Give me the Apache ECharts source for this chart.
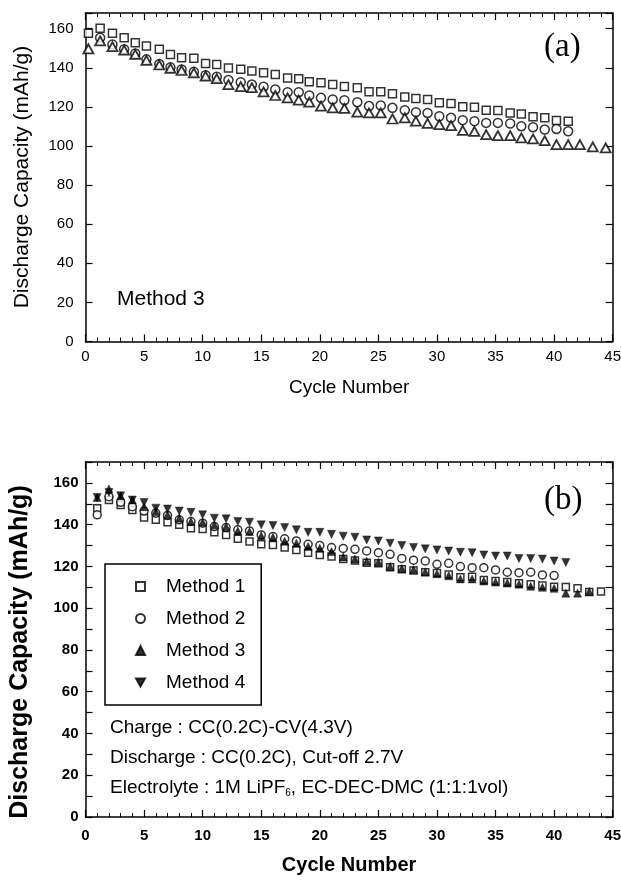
<!DOCTYPE html>
<html>
<head>
<meta charset="utf-8">
<script src="https://cdn.jsdelivr.net/npm/echarts@6/dist/echarts.min.js"></script>
<style>
html, body { margin: 0; padding: 0; background: #fff; }
#chart { width: 621px; height: 882px; }
</style>
</head>
<body>
<div id="chart"></div>
<script>
// panel (a): cycle positions
const cyclesA = [0.25, 1.25, 2.3, 3.3, 4.25, 5.2, 6.3, 7.25, 8.2, 9.25, 10.25, 11.2, 12.2, 13.25, 14.2,
  15.2, 16.2, 17.25, 18.2, 19.1, 20.1, 21.1, 22.1, 23.2, 24.2, 25.2, 26.2, 27.25, 28.2, 29.2,
  30.2, 31.2, 32.2, 33.2, 34.2, 35.2, 36.25, 37.2, 38.2, 39.2, 40.2, 41.2, 42.2, 43.3, 44.4]
const squaresA = [157.6, 160.2, 157.6, 155.4, 152.8, 151.1, 149.4, 146.8, 145.1, 144.8,
  142.2, 141.7, 139.9, 139.2, 138.3, 137.4, 136.6, 134.7, 134.4, 132.8,
  132.3, 131.4, 130.4, 129.8, 127.7, 127.7, 126.7, 125.1, 124.3, 123.8,
  122.1, 121.7, 120.0, 119.8, 118.3, 118.1, 116.9, 116.4, 114.9, 114.4, 113.0, 112.7]
const circlesA = [null, 155.4, 151.9, 149.5, 147.3, 144.3, 141.9, 140.2, 139.1, 137.9,
  136.2, 135.4, 133.7, 132.6, 131.4, 130.3, 128.9, 127.5, 127.5, 125.8,
  124.6, 123.8, 123.4, 122.4, 120.4, 120.7, 119.5, 118.3, 117.3, 116.9,
  115.2, 114.4, 113.2, 112.7, 111.8, 111.8, 111.5, 110.1, 109.6, 108.4, 108.7, 107.5]
const trianglesA = [149.7, 153.7, 150.8, 149.0, 146.8, 143.8, 141.4, 139.7, 138.6, 137.4,
  135.7, 134.4, 131.4, 130.3, 129.8, 127.7, 125.8, 124.6, 123.4, 122.4,
  120.4, 119.5, 119.2, 117.3, 116.9, 116.9, 113.8, 114.4, 112.7, 111.5,
  110.9, 110.4, 108.0, 107.5, 105.8, 105.3, 105.3, 104.1, 103.6, 102.7,
  100.7, 100.7, 100.7, 99.5, 99.0]

// panel (b)
const cyclesB = [1, 2, 3, 4, 5, 6, 7, 8, 9, 10, 11, 12, 13, 14, 15, 16, 17, 18, 19, 20, 21, 22,
  23, 24, 25, 26, 27, 28, 29, 30, 31, 32, 33, 34, 35, 36, 37, 38, 39, 40, 41, 42, 43, 44]
const method1 = [147.8, 151.8, 149.4, 147.0, 143.4, 142.3, 141.2, 139.9, 138.3, 137.9,
  136.3, 135.1, 133.2, 131.9, 130.6, 130.3, 129.0, 127.9, 126.6, 125.5,
  124.7, 123.5, 122.8, 121.8, 121.5, 119.6, 118.7, 118.1, 117.2, 116.9,
  116.1, 114.8, 115.0, 113.5, 113.0, 112.5, 111.9, 111.4, 110.9, 110.3,
  110.1, 109.6, 107.8, 108.0]
const method2 = [144.7, 153.4, 150.7, 148.6, 146.5, 145.5, 144.4, 142.3, 141.5, 140.7,
  139.1, 138.6, 137.5, 137.0, 135.1, 134.3, 133.2, 132.2, 130.6, 130.0,
  129.0, 128.6, 128.2, 127.4, 126.6, 125.8, 123.8, 123.0, 122.6, 121.0,
  121.5, 119.9, 119.4, 119.4, 118.3, 117.2, 117.0, 117.2, 115.9, 115.6]
const method3 = [153.0, 157.1, 153.8, 151.8, 148.6, 146.3, 144.7, 143.1, 141.5, 141.2,
  139.9, 139.1, 137.0, 136.7, 134.7, 134.0, 132.0, 131.1, 129.5, 128.7,
  127.1, 124.5, 123.5, 122.5, 122.0, 120.0, 119.0, 118.5, 117.5, 116.5,
  115.5, 114.0, 114.0, 113.0, 112.5, 112.0, 111.5, 110.5, 110.0, 109.5,
  107.2, 107.2, 108.0]
const method4 = [153.0, 155.4, 153.8, 151.8, 150.6, 147.9, 147.5, 146.5, 145.9, 144.7,
  143.1, 142.8, 141.5, 141.2, 139.9, 139.6, 138.6, 137.5, 136.3, 136.3,
  135.4, 134.5, 134.0, 132.7, 132.2, 131.1, 130.0, 129.1, 128.4, 127.9,
  127.4, 126.8, 126.6, 125.5, 125.0, 125.0, 123.8, 123.8, 123.5, 122.6, 121.9]

const legendNames = ["Method 1", "Method 2", "Method 3", "Method 4"]
const notes = [
  "Charge : CC(0.2C)-CV(4.3V)",
  "Discharge : CC(0.2C), Cut-off 2.7V",
  "Electrolyte : 1M LiPF{sub|6}, EC-DEC-DMC (1:1:1vol)"
]
const yTitle = "Discharge Capacity (mAh/g)"

const FONT = "Liberation Sans"
const pairs = (xs, ys) => ys.map((v, i) => [xs[i], v]).filter(p => p[1] != null)

const lineStyle = { show: true, onZero: false, lineStyle: { color: "#000", width: 1.5 } }
const tickStyle = { inside: true, length: 7, lineStyle: { color: "#000", width: 1.2 } }

const xAxes = (grid, bold, gap, margin) => [
  {
    type: "value", gridIndex: grid, position: "bottom", min: 0, max: 45, interval: 5,
    name: "Cycle Number", nameLocation: "middle", nameGap: gap,
    nameTextStyle: { fontFamily: FONT, fontSize: bold ? 20 : 19, fontWeight: bold ? "bold" : "normal", color: "#000" },
    axisLine: lineStyle,
    axisTick: tickStyle,
    minorTick: { show: true, splitNumber: 5, length: 4, lineStyle: { color: "#000", width: 1 } },
    axisLabel: { margin: margin, fontFamily: FONT, fontSize: 15, fontWeight: bold ? "bold" : "normal", color: "#000" },
    splitLine: { show: false }
  },
  {
    type: "value", gridIndex: grid, position: "top", min: 0, max: 45, interval: 5,
    axisLine: lineStyle,
    axisTick: tickStyle,
    minorTick: { show: true, splitNumber: 5, length: 4, lineStyle: { color: "#000", width: 1 } },
    axisLabel: { show: false },
    splitLine: { show: false }
  }
]

const yAxes = (grid, max, interval, bold, margin) => {
  const fmt = v => (v % 20 === 0 ? String(v) : "")
  return [
    {
      type: "value", gridIndex: grid, position: "left", min: 0, max: max, interval: interval,
      axisLine: lineStyle,
      axisTick: tickStyle,
      axisLabel: { margin: margin, fontFamily: FONT, fontSize: 15, fontWeight: bold ? "bold" : "normal", color: "#000", formatter: fmt },
      splitLine: { show: false }
    },
    {
      type: "value", gridIndex: grid, position: "right", min: 0, max: max, interval: interval,
      axisLine: lineStyle,
      axisTick: tickStyle,
      axisLabel: { show: false },
      splitLine: { show: false }
    }
  ]
}

const openStyle = { color: "#fff", borderColor: "#000", borderWidth: 1.5 }
const fillStyle = { color: "#000", borderColor: "#000", borderWidth: 0.5 }

const option = {
  animation: false,
  backgroundColor: "#fff",
  grid: [
    { left: 85.5, right: 8.3, top: 13, bottom: 540.5, outerBoundsMode: "none" },
    { left: 85.5, right: 8.3, top: 462, bottom: 65, outerBoundsMode: "none" }
  ],
  xAxis: [...xAxes(0, false, 37, 8), ...xAxes(1, true, 38, 11)],
  yAxis: [...yAxes(0, 168, 20, false, 12), ...yAxes(1, 170, 10, true, 7)],
  graphic: [
    {
      type: "text", x: 22, y: 177, rotation: Math.PI / 2,
      style: { text: yTitle, align: "center", verticalAlign: "middle", fill: "#000", font: "21px 'Liberation Sans'" }
    },
    {
      type: "text", x: 20, y: 652, rotation: Math.PI / 2,
      style: { text: yTitle, align: "center", verticalAlign: "middle", fill: "#000", font: "bold 25px 'Liberation Sans'" }
    }
  ],
  title: [
    { text: "(a)", left: 544, top: 31, padding: 0, textStyle: { fontFamily: "Liberation Serif", fontSize: 33, fontWeight: "normal", color: "#000" } },
    { text: "(b)", left: 544, top: 484, padding: 0, textStyle: { fontFamily: "Liberation Serif", fontSize: 33, fontWeight: "normal", color: "#000" } },
    { text: "Method 3", left: 117, top: 289, padding: 0, textStyle: { fontFamily: FONT, fontSize: 21, fontWeight: "normal", color: "#000" } },
    ...notes.map((t, i) => ({
      text: t, left: 110, top: 718 + i * 30, padding: 0,
      textStyle: {
        fontFamily: FONT, fontSize: 19, fontWeight: "normal", color: "#000",
        rich: { sub: { fontFamily: FONT, fontSize: 10, color: "#000", padding: [10, 0, 0, 0] } }
      }
    }))
  ],
  legend: {
    data: legendNames.map((n, i) => (i === 3 ? { name: n, icon: "path://M0,0L10,0L5,9Z" } : { name: n })),
    orient: "vertical",
    left: 105, top: 564,
    padding: [13, 16, 13, 30],
    itemGap: 13,
    itemWidth: 9, itemHeight: 9,
    borderColor: "#000", borderWidth: 1.5,
    textStyle: { fontFamily: FONT, fontSize: 19, color: "#000", lineHeight: 18, padding: [0, 0, 0, 16] },
    selectedMode: false
  },
  series: [
    { name: "A1", type: "scatter", xAxisIndex: 0, yAxisIndex: 0, symbol: "rect", symbolSize: 8, itemStyle: openStyle, data: pairs(cyclesA, squaresA) },
    { name: "A2", type: "scatter", xAxisIndex: 0, yAxisIndex: 0, symbol: "circle", symbolSize: 9, itemStyle: openStyle, data: pairs(cyclesA, circlesA) },
    { name: "A3", type: "scatter", xAxisIndex: 0, yAxisIndex: 0, symbol: "triangle", symbolSize: [10, 9], itemStyle: { color: "#fff", borderColor: "#000", borderWidth: 1.8 }, data: pairs(cyclesA, trianglesA) },
    { name: "Method 1", type: "scatter", xAxisIndex: 2, yAxisIndex: 2, symbol: "rect", symbolSize: 7, itemStyle: openStyle, data: pairs(cyclesB, method1) },
    { name: "Method 2", type: "scatter", xAxisIndex: 2, yAxisIndex: 2, symbol: "circle", symbolSize: 8, itemStyle: openStyle, data: pairs(cyclesB, method2) },
    { name: "Method 3", type: "scatter", xAxisIndex: 2, yAxisIndex: 2, symbol: "triangle", symbolSize: 8, itemStyle: fillStyle, data: pairs(cyclesB, method3) },
    { name: "Method 4", type: "scatter", xAxisIndex: 2, yAxisIndex: 2, symbol: "triangle", symbolRotate: 180, symbolSize: 8, itemStyle: fillStyle, data: pairs(cyclesB, method4) }
  ]
}

const chart = echarts.init(document.getElementById("chart"))
chart.setOption(option)
</script>
</body>
</html>
